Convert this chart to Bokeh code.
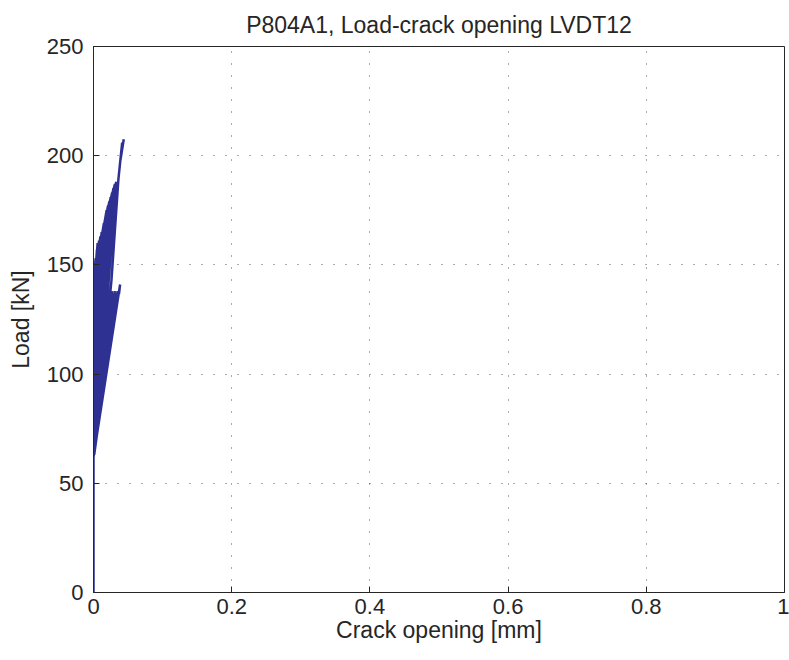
from bokeh.plotting import figure
from bokeh.models import Range1d, FixedTicker, NumeralTickFormatter
from bokeh.embed import file_html
from bokeh.resources import INLINE

crack_opening = [
    0.0, 0.0,
    # cycles with peak load ~137-141 kN
    0.001, 0.0, 0.003, 0.0, 0.005, 0.001, 0.007, 0.0, 0.009, 0.001, 0.011, 0.0,
    0.013, 0.0, 0.015, 0.001, 0.017, 0.0, 0.019, 0.001, 0.021, 0.0, 0.023, 0.001,
    0.025, 0.0, 0.027, 0.001, 0.029, 0.0, 0.031, 0.001, 0.033, 0.0, 0.035, 0.0,
    0.0385, 0.037, 0.008, 0.002,
    # cycles with rising peak load
    0.001, 0.002, 0.001, 0.001, 0.003, 0.002, 0.002, 0.005, 0.002, 0.002, 0.006,
    0.002, 0.003, 0.008, 0.003, 0.003, 0.010, 0.003, 0.004, 0.012, 0.003, 0.004,
    0.014, 0.003, 0.005, 0.015, 0.004, 0.005, 0.017, 0.004, 0.006, 0.019, 0.004,
    0.006, 0.021, 0.004, 0.007, 0.023, 0.005, 0.008, 0.025, 0.005, 0.009, 0.027,
    0.005, 0.010, 0.029, 0.005, 0.011, 0.031, 0.006, 0.012, 0.033, 0.006,
    # final loading
    0.026, 0.036, 0.0415, 0.039, 0.0438,
]
load = [
    0.0, 65.0,
    138.0, 64.0, 140.0, 63.0, 139.0, 64.0, 138.0, 63.0, 139.0, 64.0, 137.0, 63.0,
    138.0, 62.0, 139.0, 63.0, 137.0, 62.0, 138.0, 63.0, 137.0, 62.0, 138.0, 63.0,
    137.0, 62.0, 138.0, 63.0, 137.0, 62.0, 138.0, 63.0, 137.0, 62.0, 138.0, 62.0,
    141.0, 137.0, 135.0, 68.0,
    140.0, 150.0, 68.0, 142.0, 153.0, 69.0, 143.0, 157.0, 70.0, 144.0, 160.0,
    70.0, 145.0, 161.0, 71.0, 146.0, 163.0, 72.0, 147.0, 165.0, 72.0, 148.0,
    167.0, 73.0, 149.0, 169.0, 73.0, 150.0, 171.0, 74.0, 151.0, 175.0, 74.0,
    152.0, 177.0, 75.0, 154.0, 179.0, 75.0, 156.0, 181.0, 75.0, 157.0, 183.0,
    76.0, 159.0, 185.0, 76.0, 161.0, 187.0, 77.0, 163.0, 188.0, 77.0,
    143.0, 189.0, 206.0, 198.0, 207.5,
]

x_ticks = [0, 0.2, 0.4, 0.6, 0.8, 1.0]
y_ticks = [0, 50, 100, 150, 200, 250]

TXT = "#262626"
FONT = "Liberation Sans"

p = figure(
    width=789, height=660,
    x_range=Range1d(0, 1), y_range=Range1d(0, 250),
    output_backend="svg", toolbar_location=None,
    title="P804A1, Load-crack opening LVDT12",
    min_border_left=93, min_border_right=5, min_border_top=46, min_border_bottom=68,
)
p.background_fill_color = "white"
p.border_fill_color = "white"
p.outline_line_color = "#262626"
p.outline_line_width = 1

p.title.align = "center"
p.title.text_font = FONT
p.title.text_font_size = "23px"
p.title.text_font_style = "normal"
p.title.text_color = TXT
p.title.standoff = 18

p.line(crack_opening, load, line_color="#2e3192", line_width=2.5, line_join="miter")

for ax, ticks in ((p.xaxis[0], x_ticks), (p.yaxis[0], y_ticks)):
    ax.ticker = FixedTicker(ticks=ticks)
    ax.major_tick_in = 6
    ax.major_tick_out = 0
    ax.minor_tick_line_color = None
    ax.axis_line_color = "#262626"
    ax.major_tick_line_color = "#262626"
    ax.major_label_text_font = FONT
    ax.major_label_text_font_size = "22px"
    ax.major_label_text_color = TXT
    ax.axis_label_text_font = FONT
    ax.axis_label_text_font_size = "23px"
    ax.axis_label_text_font_style = "normal"
    ax.axis_label_text_color = TXT

p.xaxis[0].formatter = NumeralTickFormatter(format="0.[0]")
p.yaxis[0].formatter = NumeralTickFormatter(format="0")
p.xaxis[0].axis_label = "Crack opening [mm]"
p.yaxis[0].axis_label = "Load [kN]"
p.xaxis[0].major_label_standoff = 6
p.yaxis[0].major_label_standoff = 10
p.xaxis[0].axis_label_standoff = 0
p.yaxis[0].axis_label_standoff = 10

for g in (p.xgrid[0], p.ygrid[0]):
    g.grid_line_color = "#555555"
    g.grid_line_dash = "1 11"
    g.grid_line_width = 1
p.xgrid[0].ticker = FixedTicker(ticks=x_ticks)
p.ygrid[0].ticker = FixedTicker(ticks=y_ticks)

open("out.html", "w").write(file_html(p, INLINE))
